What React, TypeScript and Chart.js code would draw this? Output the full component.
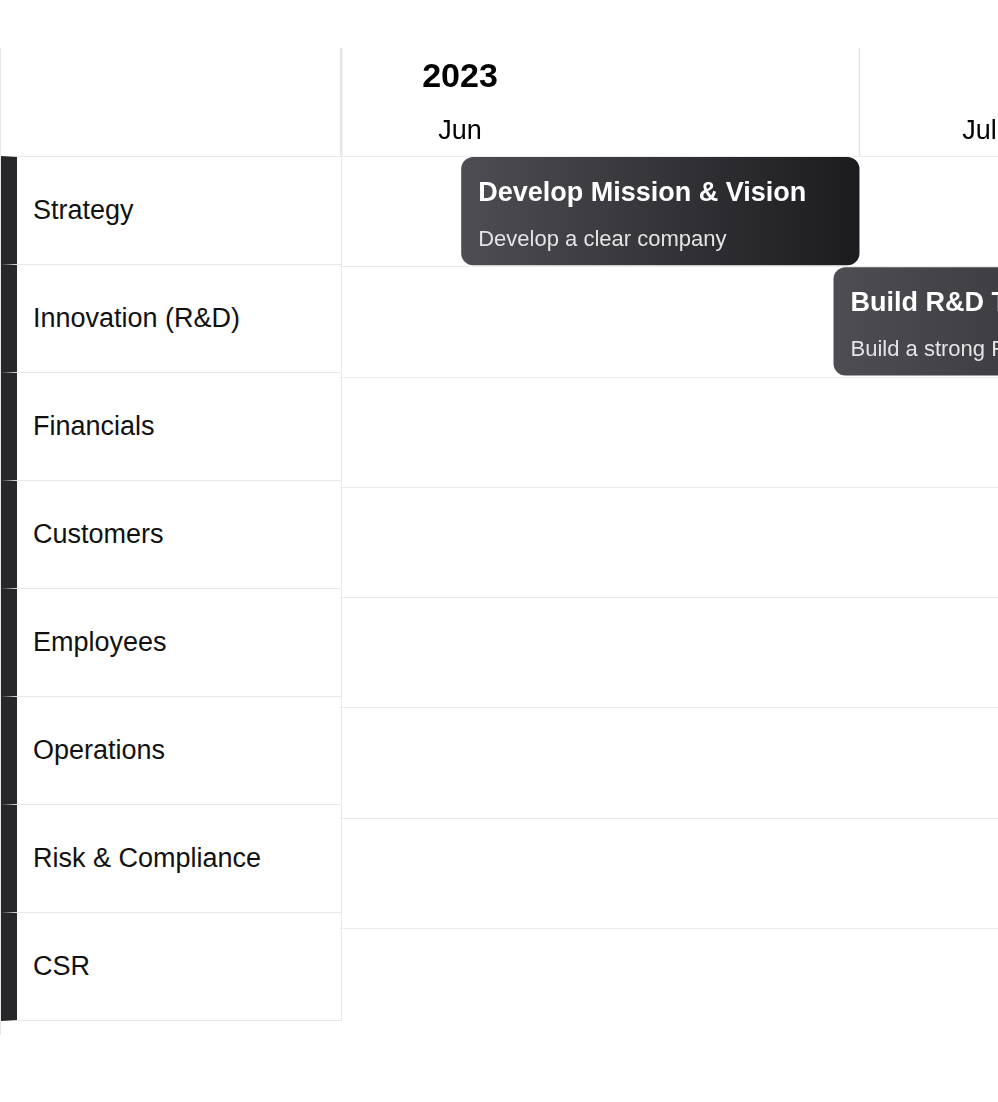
import { useRef, useEffect } from 'react';
import { Chart, registerables } from 'chart.js';

Chart.register(...registerables);

// rows of the timeline
const categories = ['Strategy', 'Innovation (R&D)', 'Financials', 'Customers', 'Employees', 'Operations', 'Risk & Compliance', 'CSR'];
// tasks: day offsets from 2023-06-01
const taskRows = ['Strategy', 'Innovation (R&D)'];
const taskStart = [7, 28.5];
const taskEnd = [30, 60];
const taskTitles = ['Develop Mission & Vision', 'Build R&D Team'];
const taskDescs = ['Develop a clear company', 'Build a strong R&D team'];
// month columns: start day offsets and labels
const monthStarts = [0, 30];
const monthLabels = ['Jun', 'Jul'];
const yearLabel = '2023';

const HEADER = 108;
const FONT = '"Liberation Sans", Arial, sans-serif';

const timelinePlugin = {
  id: 'timeline',
  beforeDatasetsDraw(chart: any) {
    const { ctx, chartArea, scales } = chart;
    const x = scales.x;
    const y = scales.y;
    ctx.save();
    // header month dividers
    ctx.strokeStyle = '#e6e6e6';
    monthStarts.forEach((m, i) => {
      const px = x.getPixelForValue(m);
      ctx.lineWidth = i === 0 ? 3 : 1.5;
      ctx.beginPath();
      ctx.moveTo(px + (i === 0 ? 1 : 0), 0);
      ctx.lineTo(px + (i === 0 ? 1 : 0), chartArea.top);
      ctx.stroke();
    });
    ctx.fillStyle = '#000';
    ctx.textAlign = 'center';
    ctx.textBaseline = 'middle';
    const m0 = x.getPixelForValue(monthStarts[0]);
    ctx.font = `bold 34px ${FONT}`;
    ctx.fillText(yearLabel, m0 + 120, 30);
    monthStarts.forEach((m, i) => {
      const px = x.getPixelForValue(m);
      if (px + 120 > chartArea.right) return;
      ctx.font = `27px ${FONT}`;
      ctx.fillText(monthLabels[i], px + 120, 84);
    });
    // row lines
    ctx.strokeStyle = '#ececec';
    ctx.lineWidth = 1;
    const half = (y.getPixelForValue(1) - y.getPixelForValue(0)) / 2;
    categories.forEach((_, i) => {
      const py = Math.round(y.getPixelForValue(i) - half) + 0.5;
      ctx.beginPath();
      ctx.moveTo(chartArea.left, py);
      ctx.lineTo(chartArea.right, py);
      ctx.stroke();
    });
    const last = Math.round(y.getPixelForValue(categories.length - 1) + half) + 0.5;
    ctx.beginPath();
    ctx.moveTo(chartArea.left, last);
    ctx.lineTo(chartArea.right, last);
    ctx.stroke();
    ctx.restore();
  },
  afterDatasetsDraw(chart: any) {
    const { ctx, chartArea } = chart;
    const meta = chart.getDatasetMeta(0);
    ctx.save();
    ctx.beginPath();
    ctx.rect(chartArea.left, chartArea.top, chartArea.right - chartArea.left, chartArea.bottom - chartArea.top);
    ctx.clip();
    meta.data.forEach((bar: any, i: number) => {
      const { x, base, y, height } = bar.getProps(['x', 'base', 'y', 'height'], true);
      const left = Math.min(x, base);
      const top = y - height / 2;
      ctx.textAlign = 'left';
      ctx.textBaseline = 'middle';
      ctx.fillStyle = '#ffffff';
      ctx.font = `bold 27px ${FONT}`;
      ctx.fillText(taskTitles[i], left + 17, top + 36);
      ctx.fillStyle = '#e4e4e7';
      ctx.font = `22px ${FONT}`;
      ctx.fillText(taskDescs[i], left + 17, top + 83);
    });
    ctx.restore();
  },
};

function Timeline() {
  const canvasRef = useRef<HTMLCanvasElement>(null);
  const chartRef = useRef<Chart | null>(null);

  useEffect(() => {
    if (!canvasRef.current) return;
    chartRef.current?.destroy();
    chartRef.current = new Chart(canvasRef.current, {
      type: 'bar',
      data: {
        labels: categories,
        datasets: [
          {
            data: taskRows.map((r, i) => ({ x: [taskStart[i], taskEnd[i]], y: r })) as any,
            backgroundColor: (c: any) => {
              const xs = c.chart.scales?.x;
              if (!xs || c.dataIndex == null) return '#3f3f46';
              const l = xs.getPixelForValue(taskStart[c.dataIndex]);
              const r = xs.getPixelForValue(taskEnd[c.dataIndex]);
              if (!Number.isFinite(l) || !Number.isFinite(r) || r <= l) return '#3f3f46';
              const g = c.chart.ctx.createLinearGradient(l, 0, r, 0);
              g.addColorStop(0, '#4d4d53');
              g.addColorStop(1, '#1c1c1f');
              return g;
            },
            borderRadius: 12,
            borderSkipped: false,
            barPercentage: 0.98,
            categoryPercentage: 1,
          },
        ],
      },
      options: {
        indexAxis: 'y',
        animation: false,
        responsive: false,
        maintainAspectRatio: false,
        layout: { padding: { top: HEADER, left: 0, right: 0, bottom: 0 } },
        scales: {
          x: { type: 'linear', min: 0, max: 38, display: false },
          y: { type: 'category', display: false, grid: { display: false } },
        },
        plugins: { legend: { display: false }, tooltip: { enabled: false } },
      },
      plugins: [timelinePlugin],
    });
    return () => {
      chartRef.current?.destroy();
    };
  }, []);

  return (
    <canvas
      ref={canvasRef}
      width={658}
      height={990}
      style={{ position: 'absolute', left: 340, top: 48, width: 658, height: 990 }}
    />
  );
}

export default function App() {
  useEffect(() => {
    document.body.style.margin = '0';
  }, []);
  return (
    <div style={{ position: 'relative', width: 998, height: 1102, overflow: 'hidden', fontFamily: FONT, background: '#fff' }}>
      <div style={{ position: 'absolute', left: 0, top: 48, width: 340, height: 107, borderLeft: '1px solid #e6e6e6', boxSizing: 'border-box' }} />
      <div style={{ position: 'absolute', left: 0, top: 155, width: 1, height: 880, background: '#e6e6e6' }} />
      {categories.map((c, i) => (
        <div
          key={c}
          style={{
            position: 'absolute',
            left: 1,
            top: 156 + i * 108,
            width: 341,
            height: 109,
            boxSizing: 'border-box',
            border: '1px solid #e8e8e8',
            borderLeft: '16px solid #27272a',
            display: 'flex',
            alignItems: 'center',
            paddingLeft: 16,
            fontSize: 27,
            color: '#111',
            background: '#fff',
          }}
        >
          {c}
        </div>
      ))}
      <Timeline />
    </div>
  );
}
